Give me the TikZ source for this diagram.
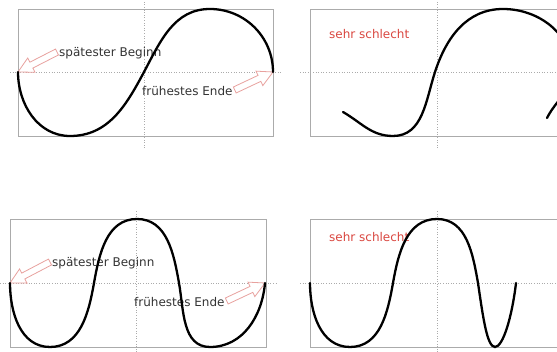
\documentclass[tikz,border=0pt]{standalone}
\usepackage{fontspec}
\setmainfont{DejaVu Sans}
\usetikzlibrary{calc}

\definecolor{framegray}{HTML}{ABABAB}
\definecolor{badred}{HTML}{D9463F}
\definecolor{hintred}{HTML}{E8A19E}
\definecolor{labelgray}{HTML}{333333}

% hollow block arrow from tail (#2) to tip (#1)
\newcommand{\hollowarrow}[2]{%
  \draw[hint] (#1)
    -- ($(#1)!15pt!(#2)!8pt!90:(#2)$)
    -- ($(#1)!15pt!(#2)!3.3pt!90:(#2)$)
    -- ($(#2)!3.3pt!-90:(#1)$)
    -- ($(#2)!3.3pt!90:(#1)$)
    -- ($(#1)!15pt!(#2)!3.3pt!-90:(#2)$)
    -- ($(#1)!15pt!(#2)!8pt!-90:(#2)$)
    -- cycle;}

\begin{document}
\begin{tikzpicture}[x=1pt, y=1pt,
  every node/.style={font=\fontsize{12}{14}\selectfont, text=labelgray, inner sep=0pt, anchor=west},
  frame/.style={draw=framegray, line width=0.8pt},
  guide/.style={draw=framegray, dotted, line width=0.6pt},
  wave/.style={line width=2.3pt, line cap=round},
  hint/.style={draw=hintred, fill=white, line width=0.8pt}]
  \useasboundingbox (0,0) rectangle (557,352);
  \clip (0,0) rectangle (557,352);

  \coordinate (startTL) at (18,280);
  \coordinate (stopTL)  at (273,280);
  \coordinate (startTR) at (343,240);
  \coordinate (stopTR)  at (547,234);
  \coordinate (startBL) at (10,69);
  \coordinate (stopBL)  at (265,69);
  \coordinate (startBR) at (310,69);
  \coordinate (stopBR)  at (516,69);

  % guides
  \draw[guide] (10,280) -- (282,280);
  \draw[guide] (144,204) -- (144,352);
  \draw[guide] (300,280) -- (557,280);
  \draw[guide] (437,204) -- (437,352);
  \draw[guide] (0,69) -- (277,69);
  \draw[guide] (136,0) -- (136,142);
  \draw[guide] (300,69) -- (557,69);
  \draw[guide] (437,0) -- (437,142);

  % frames
  \draw[frame] (18,216) rectangle (273,343);
  \draw[frame] (310,216) rectangle (580,343);
  \draw[frame] (10,5) rectangle (266,133);
  \draw[frame] (310,5) rectangle (580,133);

  % labels
  \node (beginTL) at (59,299) {spätester Beginn};
  \node (endTL)   at (142,261) {frühestes Ende};
  \node[text=badred] (badTR) at (329,318) {sehr schlecht};
  \node (beginBL) at (52,89) {spätester Beginn};
  \node (endBL)   at (134,50) {frühestes Ende};
  \node[text=badred] (badBR) at (329,115) {sehr schlecht};

  \hollowarrow{startTL}{$(beginTL.west)+(-2,1)$}
  \hollowarrow{stopTL}{$(endTL.east)+(2,1)$}
  \hollowarrow{startBL}{$(beginBL.west)+(-2,1)$}
  \hollowarrow{stopBL}{$(endBL.east)+(2,1)$}

  % waves
  \draw[wave] (startTL) to[out=-90,in=180] (70,216) to[out=0,in=-118] (144,280)
    to[out=62,in=180] (210,343) to[out=0,in=90] (stopTL);
  \draw[wave] (startTR) to[out=-30,in=180] (393,216) to[out=0,in=-108] (435,280)
    to[out=72,in=180] (503,343) to[out=0,in=90] (572,282) to[out=-90,in=63] (stopTR);
  \draw[wave] (startBL) to[out=-90,in=180] (50,5) to[out=0,in=-100] (94,69)
    to[out=80,in=180] (137,133) to[out=0,in=100] (179,69)
    to[out=-80,in=180] (210,5) to[out=0,in=-95] (stopBL);
  \draw[wave] (startBR) to[out=-90,in=180] (350,5) to[out=0,in=-100] (393,69)
    to[out=80,in=180] (437,133) to[out=0,in=100] (478,69)
    .. controls (483,35) and (487,5) .. (495,5)
    .. controls (503,5) and (512,35) .. (stopBR);
\end{tikzpicture}
\end{document}
